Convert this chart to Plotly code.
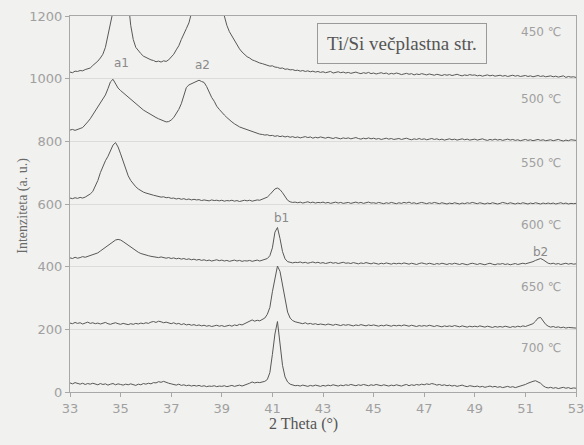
import plotly.graph_objects as go

# 2-theta grid (degrees), 0.1 deg step from 33 to 53
two_theta = [round(33 + 0.1 * i, 1) for i in range(201)]

t450 = [
    1021,1019,1024,1023,1026,1025,1029,1031,1034,1042,
    1048,1056,1066,1078,1100,1140,1175,1215,1290,1380,
    1450,1440,1360,1250,1170,1125,1100,1088,1080,1072,
    1068,1063,1060,1058,1054,1056,1053,1057,1055,1060,
    1070,1078,1092,1105,1125,1140,1160,1178,1205,1240,
    1290,1360,1430,1470,1480,1470,1430,1380,1330,1280,
    1240,1200,1170,1150,1135,1120,1105,1095,1085,1076,
    1070,1066,1060,1057,1053,1050,1048,1045,1043,1040,
    1041,1037,1036,1033,1034,1030,1031,1028,1029,1026,
    1027,1024,1026,1023,1025,1022,1024,1021,1023,1020,
    1022,1019,1021,1023,1018,1020,1022,1019,1021,1018,
    1020,1017,1019,1021,1018,1016,1019,1017,1020,1016,
    1018,1015,1017,1019,1016,1018,1014,1017,1015,1018,
    1016,1013,1015,1017,1014,1016,1012,1015,1013,1016,
    1014,1012,1015,1013,1011,1014,1012,1010,1013,1011,
    1013,1010,1012,1014,1011,1009,1012,1010,1013,1011,
    1012,1009,1011,1008,1010,1012,1009,1011,1008,1010,
    1011,1008,1010,1007,1009,1011,1008,1010,1007,1009,
    1010,1007,1009,1006,1008,1010,1007,1009,1006,1008,
    1009,1006,1008,1005,1007,1009,1004,1007,1005,1006,
    1004]

t500 = [
    836,838,835,839,841,844,852,862,872,884,
    896,908,920,932,948,968,990,998,985,970,
    962,955,948,940,932,925,918,912,906,900,
    895,890,884,880,876,872,868,864,862,863,
    868,876,888,902,920,945,972,980,984,988,
    990,995,991,988,975,955,940,928,912,902,
    892,884,876,868,862,856,850,846,843,840,
    836,833,830,828,826,823,822,820,821,818,
    819,816,818,815,817,814,816,813,815,812,
    814,811,813,815,812,814,810,813,811,814,
    812,810,813,811,809,812,810,808,811,809,
    811,808,810,812,809,807,810,808,811,808,
    810,807,809,806,808,810,807,809,806,808,
    809,806,808,810,807,805,808,806,809,806,
    808,805,807,809,806,808,805,807,804,807,
    808,805,807,804,806,808,805,807,804,806,
    807,804,806,808,805,803,806,804,807,804,
    806,803,805,807,804,806,803,805,802,805,
    806,803,805,802,804,806,803,805,802,804,
    805,802,804,806,803,801,804,802,805,803,
    803]

t550 = [
    619,617,620,618,621,619,622,626,632,640,
    655,675,700,720,738,752,770,788,796,782,
    760,735,712,690,675,664,655,648,642,638,
    635,632,630,628,626,624,622,623,620,621,
    618,619,616,618,615,617,614,616,613,615,
    613,614,611,613,612,610,613,611,612,610,
    612,609,611,610,612,609,611,608,610,612,
    610,612,609,611,613,612,615,618,622,630,
    640,648,651,646,636,622,612,607,605,606,
    604,606,603,605,607,604,606,603,605,604,
    606,603,605,602,604,606,603,605,602,604,
    605,602,604,606,603,605,602,604,606,603,
    604,602,605,603,601,604,602,605,603,601,
    604,602,605,603,606,602,604,601,603,605,
    603,601,604,602,605,603,601,604,602,600,
    603,601,604,602,600,603,601,604,602,605,
    603,601,604,602,600,603,601,604,602,600,
    602,605,603,601,604,602,600,603,601,604,
    602,600,603,601,604,602,600,603,601,603,
    601,603,600,602,604,601,603,600,602,601,
    602]

t600 = [
    428,426,430,427,429,432,430,433,435,437,
    440,444,450,456,462,468,474,480,485,487,
    485,480,474,468,462,456,450,446,442,439,
    437,435,433,432,430,429,431,428,427,429,
    426,428,425,427,424,426,423,425,422,424,
    421,423,420,422,419,421,418,420,422,419,
    421,418,420,417,419,421,418,420,417,419,
    418,420,417,419,421,418,420,422,426,435,
    460,510,525,490,448,425,416,414,412,414,
    413,415,412,414,411,413,415,412,414,411,
    413,410,412,414,411,413,410,412,414,411,
    412,410,413,411,409,412,410,413,411,409,
    412,410,408,411,409,412,410,408,411,409,
    411,409,412,410,408,411,409,407,410,412,
    410,408,411,409,407,410,408,411,409,407,
    410,408,411,409,407,410,408,406,409,411,
    409,407,410,408,406,409,411,408,406,409,
    408,410,407,409,406,408,410,407,409,411,
    409,411,413,416,420,424,426,422,416,411,
    409,411,408,410,407,409,411,408,410,408,
    409]

t650 = [
    220,218,222,219,221,217,220,223,219,221,
    218,220,217,219,222,218,216,219,221,218,
    216,219,217,215,218,216,219,217,220,218,
    221,219,223,225,222,226,224,221,223,220,
    218,221,217,219,215,218,214,216,213,215,
    212,214,211,213,210,212,209,211,213,210,
    212,209,211,213,210,214,212,216,214,218,
    220,224,230,226,229,227,232,236,248,270,
    320,368,402,385,338,290,255,236,228,224,
    222,220,218,221,217,219,216,218,215,217,
    216,214,217,215,213,216,214,212,215,213,
    215,213,211,214,212,215,213,211,214,212,
    214,212,210,213,211,214,212,210,213,211,
    213,211,214,212,210,213,211,209,212,210,
    212,210,213,211,209,212,210,208,211,209,
    211,209,212,210,208,211,209,207,210,208,
    210,208,211,209,207,210,208,206,209,207,
    209,207,210,208,206,209,207,210,208,211,
    209,212,214,218,226,236,238,228,216,210,
    207,209,206,208,205,207,204,206,205,203,
    204]

t700 = [
    29,26,30,27,25,28,24,27,25,28,
    26,23,27,24,26,22,25,27,23,26,
    24,22,25,23,26,24,21,25,23,27,
    25,28,26,30,29,33,31,34,30,28,
    26,24,22,25,21,23,20,22,19,21,
    19,21,18,20,17,19,18,20,17,19,
    18,20,17,19,21,18,20,22,19,23,
    25,28,32,29,31,30,33,34,40,62,
    120,185,225,150,85,48,32,25,22,20,
    21,19,22,20,18,21,19,22,20,18,
    21,19,22,20,23,21,19,22,20,23,
    21,24,22,20,23,21,24,22,20,23,
    21,24,22,20,23,21,19,22,20,23,
    21,19,22,24,20,23,21,24,22,25,
    23,26,24,27,25,22,24,21,23,20,
    22,19,21,18,20,22,19,17,20,18,
    17,19,16,18,15,17,19,16,18,15,
    17,14,16,18,15,17,14,16,19,21,
    24,28,32,34,36,33,28,20,15,13,
    15,12,14,11,13,15,12,14,11,13,
    12]

series = [t450, t500, t550, t600, t650, t700]

temp_labels = ["450 ℃", "500 ℃", "550 ℃", "600 ℃", "650 ℃", "700 ℃"]
temp_label_x = [51.6, 51.6, 51.6, 51.6, 51.6, 51.6]
temp_label_y = [1150, 935, 732, 533, 336, 140]

peak_labels = ["a1", "a2", "b1", "b2"]
peak_x = [35.05, 38.25, 41.35, 51.6]
peak_y = [1050, 1044, 555, 447]

x_ticks = [33, 35, 37, 39, 41, 43, 45, 47, 49, 51, 53]
y_ticks = [0, 200, 400, 600, 800, 1000, 1200]

BG = "#f1f1ef"
LINE = "#585858"
TICK = "#a0a0a0"

fig = go.Figure()
for s in series:
    fig.add_trace(go.Scatter(x=two_theta, y=s, mode="lines",
                             line=dict(color=LINE, width=1),
                             showlegend=False, hoverinfo="skip"))

annotations = []
for t, x, y in zip(temp_labels, temp_label_x, temp_label_y):
    annotations.append(dict(x=x, y=y, text=t, showarrow=False,
                            font=dict(family="DejaVu Sans", size=12, color=TICK)))
for t, x, y in zip(peak_labels, peak_x, peak_y):
    annotations.append(dict(x=x, y=y, text=t, showarrow=False,
                            font=dict(family="DejaVu Sans", size=12, color="#8a8a8a")))
annotations.append(dict(x=46.13, y=1111, text="Ti/Si večplastna str.", showarrow=False,
                        font=dict(family="Liberation Serif", size=19, color="#555555"),
                        bordercolor="#9a9a9a", borderwidth=1, borderpad=9,
                        bgcolor=BG))
annotations.append(dict(xref="paper", yref="paper", x=0.4615, y=-0.114,
                        text="2 Theta (°)", showarrow=False,
                        font=dict(family="Liberation Serif", size=16, color="#555555")))
annotations.append(dict(xref="paper", yref="paper", x=-0.113, y=0.495,
                        text="Intenziteta (a. u.)", showarrow=False, textangle=-90,
                        font=dict(family="Liberation Serif", size=14, color="#6a6a6a")))

fig.update_layout(
    width=584, height=445,
    margin=dict(l=70, r=8, t=16, b=53),
    paper_bgcolor=BG, plot_bgcolor=BG,
    annotations=annotations,
    showlegend=False,
)
fig.update_xaxes(range=[33, 53], tickvals=x_ticks, ticktext=[str(v) for v in x_ticks],
                 showgrid=False, showline=True, linecolor="#a8a8a8", linewidth=1,
                 mirror=True, ticks="outside", ticklen=4, tickcolor="#a8a8a8",
                 tickfont=dict(family="DejaVu Sans", size=13, color=TICK),
                 ticklabeloverflow="allow", automargin=False, zeroline=False)
fig.update_yaxes(range=[0, 1200], tickvals=y_ticks, ticktext=[str(v) for v in y_ticks],
                 showgrid=True, gridcolor="#dcdcda", gridwidth=1,
                 showline=True, linecolor="#a8a8a8", linewidth=1, mirror=True,
                 ticks="outside", ticklen=4, tickcolor="#a8a8a8",
                 tickfont=dict(family="DejaVu Sans", size=13, color=TICK),
                 automargin=False, zeroline=False)

fig.write_html("out.html",
               config={"displayModeBar": False},
               post_script="document.body.style.margin='0';"
                           "document.body.style.background='" + BG + "';")
